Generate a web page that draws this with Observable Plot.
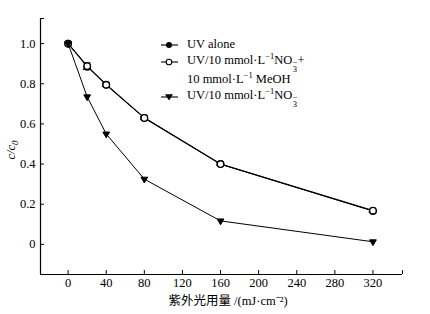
<!DOCTYPE html>
<html><head><meta charset="utf-8">
<script src="https://cdn.jsdelivr.net/npm/d3@7"></script>
<script src="https://cdn.jsdelivr.net/npm/@observablehq/plot@0.6"></script>
<style>
body{margin:0;background:#fff}
#wrap{position:relative;width:430px;height:314px;font-family:"Liberation Serif","Times New Roman",serif;color:#000}
#legend{position:absolute;left:160px;top:36px;font-size:12.5px;line-height:17.5px;white-space:nowrap}
#legend .row{display:flex;align-items:center;height:17.5px}
#legend svg{margin-right:8px;flex:none}
#legend .indent{padding-left:27px}
.st{display:inline-flex;flex-direction:column;font-size:0.68em;line-height:0.75em;vertical-align:-1px;text-align:left;margin-left:0.5px}
sup{font-size:0.68em;line-height:0;vertical-align:0.55em}
</style></head><body>
<div id="wrap"><div id="chart"></div><div id="legend"></div></div>
<script>
const dose = [0, 20, 40, 80, 160, 320];
const uvAlone = [1.0, 0.885, 0.795, 0.63, 0.40, 0.166];
const uvNitrateMeOH = [1.0, 0.888, 0.795, 0.63, 0.40, 0.168];
const meohErr = [0, 0.016, 0.008, 0.006, 0.006, 0.006];
const uvNitrate = [1.0, 0.735, 0.55, 0.325, 0.117, 0.013];
const xTicks = [0, 40, 80, 120, 160, 200, 240, 280, 320];
const yTicks = [0, 0.2, 0.4, 0.6, 0.8, 1.0];
const xDomain = [-29, 351];
const yDomain = [-0.15, 1.125];
const xTitle = "紫外光用量 /(mJ·cm⁻²)";

const rows = (ys, err) => dose.map((x, i) => ({x, y: ys[i], e: err ? err[i] : 0}));
const dAlone = rows(uvAlone);
const dMeOH = rows(uvNitrateMeOH, meohErr);
const dNit = rows(uvNitrate);

const font = "Liberation Serif";
const chart = Plot.plot({
  width: 430, height: 314,
  marginLeft: 40, marginRight: 28, marginTop: 18, marginBottom: 40,
  style: {fontFamily: "'Liberation Serif', serif", background: "#fff", color: "#000"},
  x: {domain: xDomain},
  y: {domain: yDomain},
  marks: [
    Plot.ruleX([xDomain[0]], {y1: yDomain[0], y2: yDomain[1], stroke: "#000", strokeWidth: 1.2}),
    Plot.ruleY([yDomain[0]], {x1: xDomain[0], x2: xDomain[1], stroke: "#000", strokeWidth: 1.2}),
    Plot.axisY({ticks: [...yTicks, yDomain[1]], tickSize: -4, tickPadding: 9, fontSize: 12.5, fontFamily: font,
      tickFormat: d => yTicks.includes(d) ? (d === 0 ? "0" : d.toFixed(1)) : "", label: null}),
    Plot.axisX({ticks: [...xTicks, xDomain[1]], tickSize: -4, tickPadding: 8, fontSize: 12.5, fontFamily: font,
      tickFormat: d => xTicks.includes(d) ? String(d) : "", label: null}),
    // UV alone
    Plot.line(dAlone, {x: "x", y: "y", stroke: "#000", strokeWidth: 1}),
    Plot.dot(dAlone, {x: "x", y: "y", r: 3.2, fill: "#000", stroke: "#000"}),
    // UV/NO3 + MeOH
    Plot.line(dMeOH, {x: "x", y: "y", stroke: "#000", strokeWidth: 1.2}),
    Plot.ruleX(dMeOH.filter(d => d.e > 0), {x: "x", y1: d => d.y - d.e, y2: d => d.y + d.e, stroke: "#000", strokeWidth: 1}),
    Plot.ruleY(dMeOH.filter(d => d.e > 0), {y: d => d.y - d.e, x1: d => d.x - 4, x2: d => d.x + 4, stroke: "#000", strokeWidth: 1.2}),
    Plot.ruleY(dMeOH.filter(d => d.e > 0), {y: d => d.y + d.e, x1: d => d.x - 4, x2: d => d.x + 4, stroke: "#000", strokeWidth: 1.2}),
    Plot.dot(dMeOH, {x: "x", y: "y", r: 3.2, fill: "#fff", stroke: "#000", strokeWidth: 1.2}),
    // UV/NO3
    Plot.line(dNit, {x: "x", y: "y", stroke: "#000", strokeWidth: 1}),
    Plot.dot(dNit, {x: "x", y: "y", symbol: "triangle", rotate: 180, r: 2.5, fill: "#000", stroke: "#000", strokeWidth: 1})
  ]
});
document.getElementById("chart").append(chart);

const svg = d3.select(chart);
svg.append("text")
  .attr("x", 228).attr("y", 302).attr("text-anchor", "middle").attr("dominant-baseline", "middle")
  .attr("font-family", "'Liberation Serif', 'Noto Sans CJK SC'").attr("font-size", 12.5).attr("fill", "#000")
  .text(xTitle);
const yl = svg.append("text")
  .attr("transform", "translate(15,150) rotate(-90)").attr("text-anchor", "middle")
  .attr("font-family", font).attr("font-size", 12.5).attr("font-style", "italic").attr("fill", "#000");
yl.append("tspan").text("c/c");
yl.append("tspan").attr("dy", 3).attr("font-size", 9).text("0");

// legend
const mk = (kind) => {
  let m = "";
  if (kind === "filled") m = '<circle cx="9" cy="5" r="3" fill="#000"/>';
  if (kind === "open") m = '<circle cx="9" cy="5" r="2.8" fill="#fff" stroke="#000" stroke-width="1.1"/>';
  if (kind === "tri") m = '<path d="M5,2.2 L13,2.2 L9,8.5 Z" fill="#000"/>';
  return `<svg width="19" height="10"><line x1="1" x2="18" y1="5" y2="5" stroke="#000" stroke-width="1.1"/>${m}</svg>`;
};
const no3 = 'NO<span class="st"><span>−</span><span>3</span></span>';
document.getElementById("legend").innerHTML =
  `<div class="row">${mk("filled")}<span>UV alone</span></div>` +
  `<div class="row">${mk("open")}<span>UV/10 mmol·L<sup>−1</sup>${no3}+</span></div>` +
  `<div class="row indent"><span>10 mmol·L<sup>−1</sup> MeOH</span></div>` +
  `<div class="row">${mk("tri")}<span>UV/10 mmol·L<sup>−1</sup>${no3}</span></div>`;
</script>
</body></html>
